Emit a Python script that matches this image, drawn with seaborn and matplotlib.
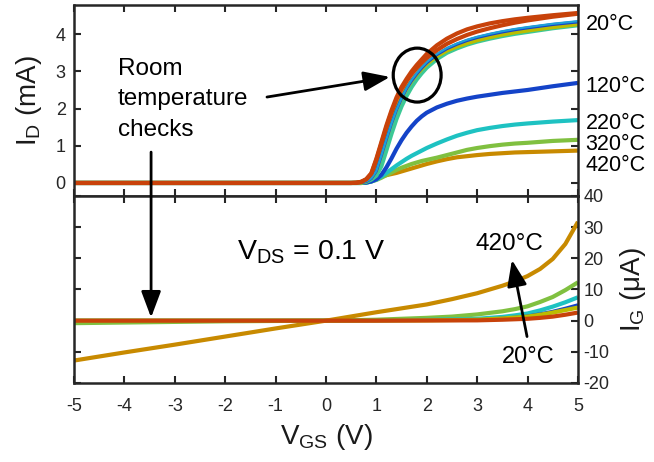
import numpy as np
import pandas as pd
import matplotlib
matplotlib.use("Agg")
import matplotlib.pyplot as plt
import matplotlib.transforms as mtransforms
from matplotlib.patches import Ellipse
import seaborn as sns

# ---------------- data ----------------
# Drain current I_D (mA) versus gate voltage V_GS (V)
vgs_top = [-5, 0.5, 0.6, 0.7, 0.8, 0.9, 1.0, 1.1, 1.2, 1.3, 1.4, 1.5, 1.6, 1.7,
           1.8, 1.9, 2.0, 2.2, 2.4, 2.6, 2.8, 3.0, 3.25, 3.5, 3.75, 4.0, 4.5, 5.0]
id_20 = [0, 0, 0.005, 0.03, 0.1, 0.26, 0.65, 1.1, 1.55, 1.95, 2.3, 2.58, 2.8, 3.0,
         3.17, 3.32, 3.47, 3.7, 3.88, 4.02, 4.13, 4.21, 4.29, 4.35, 4.4, 4.44, 4.51, 4.57]
id_120 = [0, 0, 0, 0, 0.01, 0.04, 0.1, 0.22, 0.42, 0.66, 0.92, 1.15, 1.35, 1.52,
          1.67, 1.79, 1.89, 2.03, 2.13, 2.21, 2.27, 2.32, 2.37, 2.42, 2.46, 2.5, 2.6, 2.69]
id_220 = [0, 0, 0, 0, 0.01, 0.04, 0.09, 0.17, 0.27, 0.37, 0.47, 0.56, 0.65, 0.73,
          0.8, 0.87, 0.94, 1.06, 1.17, 1.27, 1.35, 1.42, 1.48, 1.53, 1.57, 1.6, 1.65, 1.69]
id_320 = [0, 0, 0, 0, 0.01, 0.04, 0.08, 0.14, 0.21, 0.28, 0.35, 0.41, 0.46, 0.51,
          0.55, 0.59, 0.62, 0.68, 0.75, 0.82, 0.89, 0.94, 0.99, 1.03, 1.06, 1.08, 1.13, 1.16]
id_420 = [0, 0, 0.01, 0.03, 0.06, 0.11, 0.15, 0.18, 0.21, 0.24, 0.27, 0.31, 0.35, 0.39,
          0.43, 0.47, 0.51, 0.58, 0.64, 0.69, 0.72, 0.75, 0.78, 0.8, 0.82, 0.83, 0.85, 0.87]
# room-temperature checks taken between the heated sweeps
chk_orange = [0, 0, 0.005, 0.03, 0.1, 0.25, 0.62, 1.06, 1.5, 1.9, 2.25, 2.52, 2.74, 2.93,
              3.09, 3.23, 3.36, 3.57, 3.74, 3.87, 3.98, 4.07, 4.16, 4.24, 4.31, 4.37, 4.47, 4.55]
chk_cyan = [0, 0, 0, 0.01, 0.04, 0.12, 0.32, 0.74, 1.18, 1.6, 1.97, 2.28, 2.55, 2.77,
            2.95, 3.11, 3.25, 3.47, 3.63, 3.75, 3.85, 3.93, 4.01, 4.08, 4.14, 4.19, 4.28, 4.35]
chk_blue = [0, 0, 0, 0.01, 0.04, 0.12, 0.32, 0.74, 1.18, 1.6, 1.97, 2.28, 2.54, 2.75,
            2.93, 3.09, 3.23, 3.45, 3.61, 3.73, 3.83, 3.91, 3.99, 4.06, 4.12, 4.17, 4.26, 4.33]
chk_yellow = [0, 0, 0, 0.01, 0.05, 0.14, 0.35, 0.78, 1.22, 1.64, 2.0, 2.3, 2.55, 2.75,
              2.92, 3.07, 3.2, 3.41, 3.56, 3.67, 3.76, 3.84, 3.92, 3.99, 4.05, 4.1, 4.19, 4.27]
chk_teal = [0, 0, 0, 0, 0.03, 0.09, 0.2, 0.45, 0.88, 1.32, 1.72, 2.06, 2.34, 2.58,
            2.78, 2.95, 3.1, 3.33, 3.5, 3.62, 3.72, 3.8, 3.88, 3.95, 4.01, 4.06, 4.16, 4.24]

# Gate current I_G (uA) versus V_GS (V)
vgs_bot = [-5, -4, -3, -2, -1, 0, 1, 2, 2.5, 3, 3.5, 3.75, 4, 4.25, 4.5, 4.75, 5]
ig_420 = [-12.8, -10.2, -7.7, -5.1, -2.5, 0, 2.7, 5.2, 6.9, 8.8, 11.2, 12.6, 14.3,
          16.6, 19.8, 24.6, 31.7]
ig_320 = [-0.8, -0.6, -0.4, -0.2, -0.1, 0, 0.3, 0.9, 1.3, 2.0, 3.0, 3.7, 4.6,
          6.0, 7.6, 9.8, 12.3]
ig_220 = [0, 0, 0, 0, 0, 0, 0.1, 0.25, 0.4, 0.6, 1.2, 1.7, 2.3, 3.3, 4.5, 5.9, 7.5]
ig_120 = [0, 0, 0, 0, 0, 0, 0.05, 0.1, 0.2, 0.3, 0.8, 1.1, 1.5, 2.2, 3.0, 4.0, 5.1]
ig_chk = [0, 0, 0, 0, 0, 0, 0.05, 0.1, 0.2, 0.3, 0.7, 1.0, 1.3, 1.9, 2.6, 3.4, 4.2]
ig_20 = [0, 0, 0, 0, 0, 0, 0, 0.05, 0.08, 0.1, 0.3, 0.45, 0.6, 0.9, 1.3, 1.9, 2.6]

temp_labels = ["20°C", "120°C", "220°C", "320°C", "420°C"]
temp_label_base = [4.11, 2.45, 1.46, 0.89, 0.33]

# ---------------- style ----------------
sns.set_theme(style="ticks")
plt.rcParams["font.family"] = ["Liberation Sans", "DejaVu Sans"]
plt.rcParams["mathtext.fontset"] = "custom"
plt.rcParams["mathtext.rm"] = "Liberation Sans"
plt.rcParams["mathtext.it"] = "Liberation Sans"
plt.rcParams["axes.unicode_minus"] = False

C20 = "#C8420A"
C120 = "#1443C8"
C220 = "#1EC2C2"
C320 = "#80C040"
C420 = "#C88A00"
CYEL = "#BCBC00"
CTEAL = "#3CC896"
CLBLUE = "#1E9FD8"
TICKC = "#262626"

fig = plt.figure(figsize=(6.54, 4.62), dpi=100)
ax_top = fig.add_axes([0.1131, 0.5758, 0.7706, 0.4134])
ax_bot = fig.add_axes([0.1131, 0.1710, 0.7706, 0.4048], sharex=ax_top)

LW = 3.0


def draw(ax, x, y, color, lw=LW):
    df = pd.DataFrame({"x": x, "y": y})
    sns.lineplot(data=df, x="x", y="y", ax=ax, color=color, linewidth=lw,
                 sort=False, estimator=None, solid_capstyle="butt",
                 solid_joinstyle="round")


# top panel: heated sweeps then room temperature checks
draw(ax_top, vgs_top, id_420, C420)
draw(ax_top, vgs_top, id_320, C320)
draw(ax_top, vgs_top, id_220, C220)
draw(ax_top, vgs_top, id_120, C120)
draw(ax_top, vgs_top, chk_teal, CTEAL)
draw(ax_top, vgs_top, chk_yellow, CYEL)
draw(ax_top, vgs_top, chk_blue, C120, lw=2.2)
draw(ax_top, vgs_top, chk_cyan, CLBLUE, lw=1.6)
draw(ax_top, vgs_top, chk_orange, C20)
draw(ax_top, vgs_top, id_20, C20)

# bottom panel: gate leakage
draw(ax_bot, vgs_bot, ig_320, C320)
draw(ax_bot, vgs_bot, ig_220, C220)
draw(ax_bot, vgs_bot, ig_120, C120, lw=2.2)
draw(ax_bot, vgs_bot, ig_chk, CYEL)
draw(ax_bot, vgs_bot, ig_420, C420)
draw(ax_bot, vgs_bot, ig_20, C20)

# ---------------- axes ----------------
ax_top.set_xlim(-5, 5)
ax_top.set_ylim(-0.35, 4.785)
ax_bot.set_ylim(-20, 40)

for ax in (ax_top, ax_bot):
    for s in ax.spines.values():
        s.set_visible(True)
        s.set_linewidth(1.8)
        s.set_color(TICKC)
    ax.tick_params(direction="in", length=5, width=1.5, colors=TICKC,
                   top=True, right=True, left=True, bottom=True,
                   labelsize=13, pad=6)
    ax.tick_params(axis="x", pad=11)
    ax.set_xticks(range(-5, 6))
    ax.set_xlabel("")
    ax.set_ylabel("")

ax_top.set_yticks([0, 1, 2, 3, 4])
ax_top.tick_params(labelbottom=False)
ax_top.set_ylabel(r"I$_\mathregular{D}$ (mA)", fontsize=20, labelpad=8,
                  color="#1a1a1a")

ax_bot.set_yticks([-20, -10, 0, 10, 20, 30, 40])
ax_bot.tick_params(axis="y", labelleft=False, labelright=True, pad=4)
ax_bot.yaxis.set_label_position("right")
ax_bot.set_ylabel(r"I$_\mathregular{G}$ ($\mathregular{\mu}$A)", fontsize=20,
                  labelpad=6, color="#1a1a1a")
ax_bot.set_xlabel(r"V$_\mathregular{GS}$ (V)", fontsize=20, labelpad=5,
                  color="#1a1a1a")

# ---------------- annotations ----------------
blend = mtransforms.blended_transform_factory(ax_top.transAxes, ax_top.transData)
for lab, yy in zip(temp_labels, temp_label_base):
    ax_top.text(1.015, yy, lab, transform=blend, fontsize=15.5,
                va="baseline", ha="left", color="black", clip_on=False)

ax_top.add_patch(Ellipse((1.81, 2.9), 0.95, 1.45, fill=False,
                         edgecolor="black", linewidth=2.3, zorder=5))

ax_top.text(-4.13, 2.25, "Room\ntemperature\nchecks", fontsize=17.5,
            ha="left", va="center", linespacing=1.5, color="black")

arrow_kw = dict(arrowstyle="-|>,head_length=0.8,head_width=0.3",
                color="black", lw=2.0, mutation_scale=20,
                shrinkA=0, shrinkB=0)

ax_top.annotate("", xy=(1.27, 2.85), xytext=(-1.17, 2.31),
                arrowprops=arrow_kw, zorder=6)

ax_bot.annotate("", xy=(-3.47, 1.0), xycoords="data",
                xytext=(-3.47, 0.83), textcoords=ax_top.transData,
                arrowprops=arrow_kw, annotation_clip=False, zorder=6)

ax_bot.text(-1.77, 22, r"V$_\mathregular{DS}$ = 0.1 V", fontsize=20.5,
            ha="left", va="center", color="black")
ax_bot.text(3.65, 24.7, "420°C", fontsize=17.5, ha="center", va="center",
            color="black")
ax_bot.text(4.02, -11.5, "20°C", fontsize=17, ha="center", va="center",
            color="black")
ax_bot.annotate("", xy=(3.69, 19.5), xytext=(3.99, -5.1),
                arrowprops=arrow_kw, zorder=6)

fig.savefig("out.png", dpi=100)
